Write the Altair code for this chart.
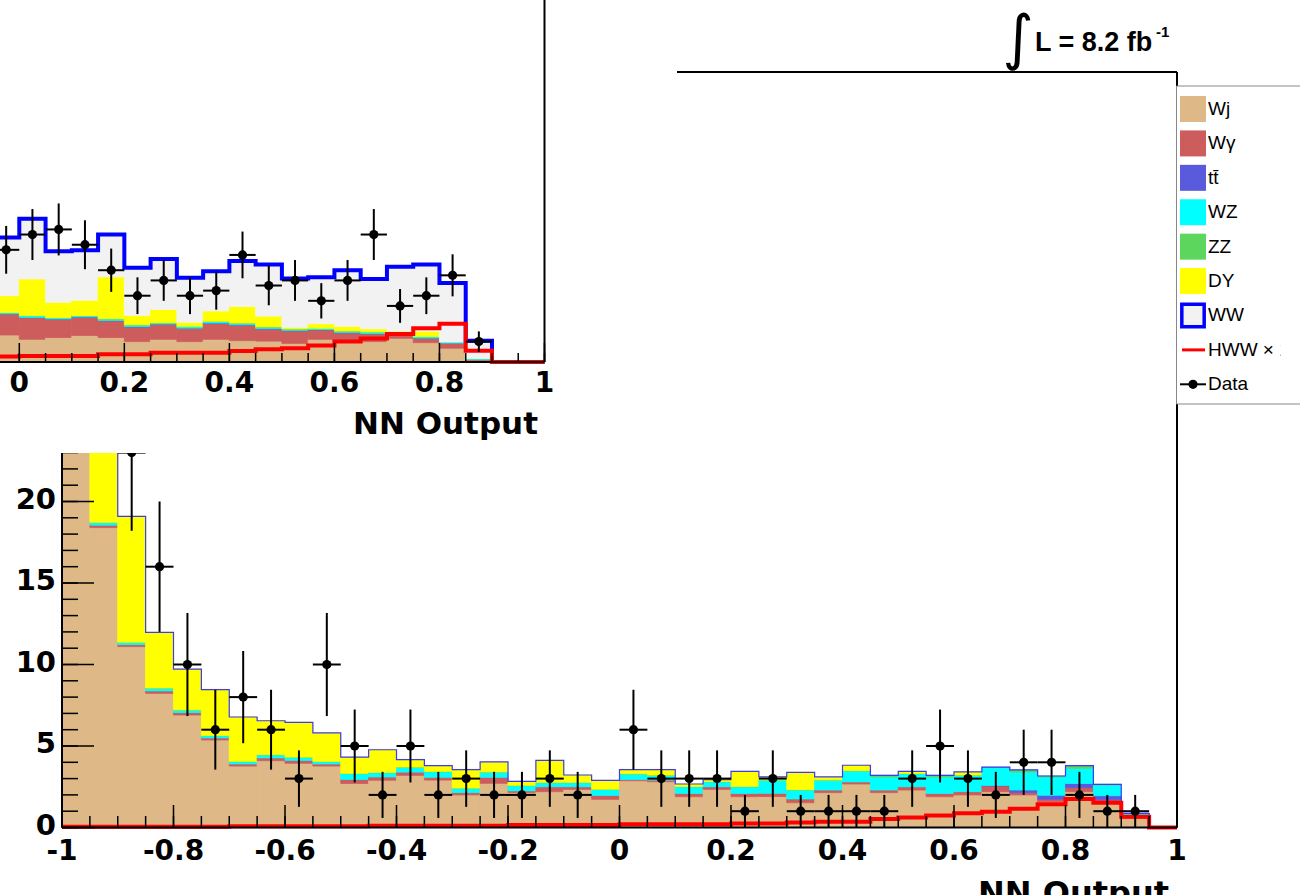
import altair as alt
import numpy as np
import pandas as pd

# ---------------- data ----------------
processes = ["Wj", "Wγ", "tt\u0304", "WZ", "ZZ", "DY", "WW"]
proc_colors = ["#DEB887", "#CD5C5C", "#5A5ADC", "#00FFFF", "#5CD65C", "#FFFF00", "#F2F2F2"]

# main panel: 40 bins of width 0.05 on [-1, 1]
main_edges = [round(-1 + 0.05 * i, 3) for i in range(41)]
main_wj = [32, 18.4, 11.1, 8.23, 6.9, 5.37, 3.77, 4.1, 3.94, 3.77, 2.7, 2.9, 3.2, 2.91, 2.0, 2.71, 2.14, 2.2, 2.34, 1.73,
           2.87, 2.81, 1.89, 2.34, 1.89, 1.9, 1.52, 2.14, 2.67, 2.14, 2.3, 1.89, 2.0, 2.2, 2.0, 1.58, 2.2, 1.58, 0.56, 0]
main_wg = [0.3, 0.15, 0.12, 0.15, 0.15, 0.13, 0.13, 0.17, 0.18, 0.13, 0.25, 0.2, 0.2, 0.17, 0.14, 0.37, 0.11, 0.3, 0.16, 0.24,
           0.08, 0.1, 0.2, 0.16, 0.2, 0.2, 0.23, 0.16, 0.13, 0.16, 0.2, 0.2, 0.2, 0.35, 0.14, 0.15, 0.25, 0.12, 0.04, 0]
main_tt = [0, 0, 0, 0, 0, 0, 0, 0, 0, 0, 0, 0, 0, 0, 0, 0, 0, 0, 0, 0,
           0, 0, 0, 0, 0, 0, 0, 0, 0, 0, 0, 0, 0, 0.03, 0.16, 0.25, 0.25, 0.25, 0.18, 0]
main_wz = [0.3, 0.15, 0.13, 0.16, 0.15, 0.13, 0.14, 0.18, 0.18, 0.14, 0.35, 0.26, 0.29, 0.34, 0.26, 0.31, 0.32, 0.25, 0.25, 0.36,
           0.33, 0.29, 0.41, 0.3, 0.41, 0.8, 0.55, 0.6, 0.67, 0.8, 0.8, 1.01, 1.0, 1.1, 1.1, 1.12, 0.93, 0.65, 0.07, 0]
main_zz = [0.05, 0.02, 0.02, 0.02, 0.02, 0.02, 0.02, 0.02, 0.02, 0.02, 0.02, 0.02, 0.02, 0.02, 0.02, 0.02, 0.02, 0.02, 0.02, 0.02,
           0.02, 0.02, 0.02, 0.02, 0.02, 0.02, 0.02, 0.02, 0.02, 0.1, 0.02, 0.1, 0.02, 0.02, 0.13, 0.06, 0.17, 0.05, 0.02, 0]
main_dy = [12, 12, 7.72, 3.41, 2.5, 2.81, 2.72, 2.08, 2.13, 1.74, 1.0, 1.39, 0.45, 0.35, 1.13, 0.61, 0.24, 1.35, 0.45, 0.54,
           0.25, 0.33, 0.15, 0.11, 0.92, 0.18, 1.06, 0.18, 0.33, 0, 0.12, 0, 0.19, 0, 0, 0, 0, 0, 0, 0]
main_ww = [0, 0, 0, 0, 0, 0, 0, 0, 0, 0, 0, 0, 0, 0, 0, 0, 0, 0, 0, 0,
           0, 0, 0, 0, 0, 0, 0, 0, 0, 0, 0, 0, 0, 0, 0, 0, 0, 0, 0, 0]
main_hww = [0.05, 0.05, 0.05, 0.05, 0.05, 0.05, 0.08, 0.08, 0.08, 0.08, 0.08, 0.1, 0.1, 0.1, 0.1, 0.1, 0.15, 0.15, 0.15, 0.15,
            0.2, 0.2, 0.2, 0.2, 0.25, 0.25, 0.3, 0.35, 0.35, 0.52, 0.62, 0.73, 0.87, 0.97, 1.15, 1.42, 1.75, 1.52, 0.66, 0]
main_data = [38, 30, 23, 16, 10, 6, 8, 6, 3, 10, 5, 2, 5, 2, 3, 2, 2, 3, 2, 0,
             6, 3, 3, 3, 1, 3, 1, 1, 1, 1, 3, 5, 3, 2, 4, 4, 2, 1, 1, 0]

# inset panel: 21 bins of width 0.05 on [-0.05, 1]
inset_edges = [round(-0.05 + 0.05 * i, 3) for i in range(22)]
inset_wj = [5.3, 4.45, 4.8, 5.2, 4.8, 4.0, 4.45, 4.0, 4.45, 4.2, 4.1, 3.65, 4.45, 4.3, 4.0, 4.65, 3.8, 2.7, 0.35, 0, 0]
inset_wg = [4.1, 4.25, 3.6, 3.6, 3.3, 2.9, 2.95, 2.6, 3.15, 3.05, 2.4, 2.5, 1.85, 1.45, 1.5, 0.65, 0.85, 0.95, 0.1, 0, 0]
inset_tt = [0.05, 0.05, 0.05, 0.05, 0.05, 0.05, 0.05, 0.05, 0.05, 0.05, 0.05, 0.05, 0.05, 0.05, 0.05, 0.05, 0.05, 0.05, 0.05, 0, 0]
inset_wz = [0.2, 0.3, 0.2, 0.2, 0.3, 0.3, 0.2, 0.3, 0.3, 0.3, 0.3, 0.25, 0.2, 0.25, 0.3, 0.2, 0.25, 0.15, 0.1, 0, 0]
inset_zz = [0.05, 0.05, 0.05, 0.05, 0.05, 0.05, 0.05, 0.05, 0.05, 0.05, 0.05, 0.05, 0.05, 0.05, 0.05, 0.05, 0.05, 0.05, 0.05, 0, 0]
inset_dy = [3.3, 7.2, 3.0, 3.0, 8.2, 1.8, 2.6, 0.8, 2.0, 3.25, 2.1, 0.3, 0.9, 0.9, 0.6, 0.45, 1.05, 0, 0, 0, 0]
inset_ww = [11.4, 11.8, 10.0, 9.8, 8.3, 9.4, 9.9, 8.7, 7.8, 8.9, 10.1, 9.6, 9.1, 11.0, 9.8, 12.65, 13.05, 11.6, 3.5, 0, 0]
inset_hww = [1.1, 1.2, 1.2, 1.2, 1.5, 1.5, 1.8, 1.8, 1.8, 2.15, 2.5, 2.7, 3.25, 4.0, 4.6, 5.5, 6.6, 7.5, 2.2, 0, 0]
inset_data = [22, 25, 26, 23, 18, 13, 16, 13, 14, 21, 15, 16, 12, 16, 25, 11, 13, 17, 4, 0, 0]

# axes
main_x_ticks = [-1, -0.8, -0.6, -0.4, -0.2, 0, 0.2, 0.4, 0.6, 0.8, 1]
main_x_labels = ["-1", "-0.8", "-0.6", "-0.4", "-0.2", "0", "0.2", "0.4", "0.6", "0.8", "1"]
main_x_minor = [round(-1 + 0.05 * i, 3) for i in range(41)]
main_y_ticks = [0, 5, 10, 15, 20, 25, 30, 35, 40, 45]
main_y_labels_v = [0, 5, 10, 15, 20]
main_y_minor = list(range(0, 47))
inset_x_ticks = [0, 0.2, 0.4, 0.6, 0.8, 1]
inset_x_labels = ["0", "0.2", "0.4", "0.6", "0.8", "1"]
inset_x_minor = [round(0.05 * i, 3) for i in range(21)]

legend_labels = ["Wj", "Wγ", "tt\u0304", "WZ", "ZZ", "DY", "WW", "HWW × 10", "Data"]

# ---------------- scales ----------------
MAIN_YMAX = 46.35
INSET_YMAX = 71.0


def sc(domain, rng):
    return alt.Scale(domain=domain, range=rng, nice=False, zero=False)


MX = sc([-1, 1], [62, 1177])
MY = sc([0, MAIN_YMAX], [827.5, 72])
IX = sc([0, 1], [19.3, 544.5])
IY = sc([0, INSET_YMAX], [362, 0])
LY = sc([0, 8], [109, 384.3])


def stack_df(edges, series):
    rows = []
    n = len(edges) - 1
    for i in range(n):
        base = 0.0
        for p, arr in zip(processes, series):
            v = arr[i]
            if v > 0:
                rows.append(dict(lo=edges[i], hi=edges[i + 1], proc=p, y0=base, y1=base + v))
            base += v
    return pd.DataFrame(rows)


def step_df(edges, vals):
    xs = list(edges[:-1]) + [edges[-1]]
    ys = list(vals) + [vals[-1]]
    return pd.DataFrame({"x": xs, "y": ys})


def data_df(edges, counts):
    rows = []
    for i, n in enumerate(counts):
        if n > 0:
            rows.append(dict(c=(edges[i] + edges[i + 1]) / 2, xl=edges[i], xh=edges[i + 1], n=n))
    return pd.DataFrame(rows)


main_series = [main_wj, main_wg, main_tt, main_wz, main_zz, main_dy, main_ww]
inset_series = [inset_wj, inset_wg, inset_tt, inset_wz, inset_zz, inset_dy, inset_ww]
main_total = [sum(s[i] for s in main_series) for i in range(40)]
inset_total = [sum(s[i] for s in inset_series) for i in range(21)]

one = pd.DataFrame({"a": [0]})
color_scale = alt.Scale(domain=processes, range=proc_colors)
BOLD = dict(font="DejaVu Sans", fontWeight="bold")


def panel(edges, series, total, hww, X, Y, outline_w, outline_color, clip):
    layers = []
    layers.append(alt.Chart(stack_df(edges, series)).mark_rect(strokeWidth=0.8, clip=clip).encode(
        x=alt.X("lo:Q", scale=X, axis=None), x2="hi:Q",
        y=alt.Y("y0:Q", scale=Y, axis=None), y2="y1:Q",
        color=alt.Color("proc:N", scale=color_scale, legend=None),
        stroke=alt.Stroke("proc:N", scale=color_scale, legend=None)))
    layers.append(alt.Chart(step_df(edges, total)).mark_line(
        interpolate="step-after", color=outline_color, strokeWidth=outline_w, clip=clip).encode(
        x=alt.X("x:Q", scale=X, axis=None), y=alt.Y("y:Q", scale=Y, axis=None)))
    layers.append(alt.Chart(step_df(edges, hww)).mark_line(
        interpolate="step-after", color="#FF0000", strokeWidth=4, clip=clip).encode(
        x=alt.X("x:Q", scale=X, axis=None), y=alt.Y("y:Q", scale=Y, axis=None)))
    return layers


def data_layers(edges, counts, X, Y, clip):
    d = data_df(edges, counts)
    base = alt.Chart(d).transform_calculate(
        elo="datum.n - sqrt(datum.n)", ehi="datum.n + sqrt(datum.n)")
    return [
        base.mark_rule(color="black", strokeWidth=2, clip=clip).encode(
            x=alt.X("c:Q", scale=X, axis=None), y=alt.Y("elo:Q", scale=Y, axis=None), y2="ehi:Q"),
        base.mark_rule(color="black", strokeWidth=2, clip=clip).encode(
            x=alt.X("xl:Q", scale=X, axis=None), x2="xh:Q", y=alt.Y("n:Q", scale=Y, axis=None)),
        base.mark_circle(color="black", size=85, opacity=1, clip=clip).encode(
            x=alt.X("c:Q", scale=X, axis=None), y=alt.Y("n:Q", scale=Y, axis=None)),
    ]


layers = []

# ---------- main panel ----------
layers += panel(main_edges, main_series, main_total, main_hww, MX, MY, 1.2, "#3a3aff", False)

# ticks
layers.append(alt.Chart(pd.DataFrame({"v": main_x_minor})).mark_rule(color="black", strokeWidth=1.5).encode(
    x=alt.X("v:Q", scale=MX, axis=None), y=alt.value(827.5), y2=alt.value(816)))
layers.append(alt.Chart(pd.DataFrame({"v": main_x_ticks})).mark_rule(color="black", strokeWidth=1.5).encode(
    x=alt.X("v:Q", scale=MX, axis=None), y=alt.value(827.5), y2=alt.value(805)))
layers.append(alt.Chart(pd.DataFrame({"v": main_y_minor})).mark_rule(color="black", strokeWidth=1.5).encode(
    y=alt.Y("v:Q", scale=MY, axis=None), x=alt.value(62), x2=alt.value(78)))
layers.append(alt.Chart(pd.DataFrame({"v": main_y_ticks})).mark_rule(color="black", strokeWidth=1.5).encode(
    y=alt.Y("v:Q", scale=MY, axis=None), x=alt.value(62), x2=alt.value(94)))

# frame
frame = pd.DataFrame({"x1": [-1, -1, 1, -1], "x2": [1, -1, 1, 1],
                      "y1": [0, 0, 0, MAIN_YMAX], "y2": [0, MAIN_YMAX, MAIN_YMAX, MAIN_YMAX]})
layers.append(alt.Chart(frame).mark_rule(color="black", strokeWidth=2).encode(
    x=alt.X("x1:Q", scale=MX, axis=None), x2="x2:Q", y=alt.Y("y1:Q", scale=MY, axis=None), y2="y2:Q"))

layers += data_layers(main_edges, main_data, MX, MY, False)

# labels
layers.append(alt.Chart(pd.DataFrame({"v": main_x_ticks, "t": main_x_labels})).mark_text(
    fontSize=28, align="center", baseline="middle", **BOLD).encode(
    x=alt.X("v:Q", scale=MX, axis=None), y=alt.value(852), text="t:N"))
layers.append(alt.Chart(pd.DataFrame({"v": main_y_labels_v, "t": [str(v) for v in main_y_labels_v]})).mark_text(
    fontSize=29, align="right", baseline="middle", dy=-2, **BOLD).encode(
    y=alt.Y("v:Q", scale=MY, axis=None), x=alt.value(56), text="t:N"))
layers.append(alt.Chart(one).mark_text(text="NN Output", fontSize=32, align="right", baseline="top", **BOLD).encode(
    x=alt.value(1169), y=alt.value(879)))

# ---------- inset canvas ----------
layers.append(alt.Chart(one).mark_rect(color="white", opacity=1).encode(
    x=alt.value(0), x2=alt.value(677), y=alt.value(0), y2=alt.value(453)))

layers += panel(inset_edges, inset_series, inset_total, inset_hww, IX, IY, 4, "#0000FF", True)

layers.append(alt.Chart(pd.DataFrame({"v": inset_x_minor})).mark_rule(color="black", strokeWidth=1.5).encode(
    x=alt.X("v:Q", scale=IX, axis=None), y=alt.value(362), y2=alt.value(353)))
layers.append(alt.Chart(pd.DataFrame({"v": inset_x_ticks})).mark_rule(color="black", strokeWidth=1.5).encode(
    x=alt.X("v:Q", scale=IX, axis=None), y=alt.value(362), y2=alt.value(343)))

iframe = pd.DataFrame({"x1": [-0.2, 1], "x2": [1, 1], "y1": [0, 0], "y2": [0, INSET_YMAX]})
layers.append(alt.Chart(iframe).mark_rule(color="black", strokeWidth=2, clip=True).encode(
    x=alt.X("x1:Q", scale=IX, axis=None), x2="x2:Q", y=alt.Y("y1:Q", scale=IY, axis=None), y2="y2:Q"))

layers += data_layers(inset_edges, inset_data, IX, IY, True)

layers.append(alt.Chart(pd.DataFrame({"v": inset_x_ticks, "t": inset_x_labels})).mark_text(
    fontSize=28, align="center", baseline="middle", **BOLD).encode(
    x=alt.X("v:Q", scale=IX, axis=None), y=alt.value(384), text="t:N"))
layers.append(alt.Chart(one).mark_text(text="NN Output", fontSize=31, align="right", baseline="alphabetic", **BOLD).encode(
    x=alt.value(538), y=alt.value(434)))

# ---------- luminosity ----------
layers.append(alt.Chart(one).mark_text(text="∫", font="DejaVu Sans", fontSize=60, align="center",
                                       baseline="alphabetic").encode(x=alt.value(1018), y=alt.value(58)))
layers.append(alt.Chart(one).mark_text(text="L = 8.2 fb", font="Liberation Sans", fontWeight="bold", fontSize=27,
                                       align="left", baseline="alphabetic").encode(x=alt.value(1035), y=alt.value(51)))
layers.append(alt.Chart(one).mark_text(text="-1", font="Liberation Sans", fontWeight="bold", fontSize=15,
                                       align="left", baseline="alphabetic").encode(x=alt.value(1156), y=alt.value(37)))

# ---------- legend ----------
layers.append(alt.Chart(one).mark_rect(fill="white", stroke="#888888", strokeWidth=1).encode(
    x=alt.value(1176.5), x2=alt.value(1320), y=alt.value(86), y2=alt.value(404)))
leg = pd.DataFrame({"r": list(range(len(legend_labels))), "t": legend_labels})
leg_fill = pd.DataFrame({"r": list(range(6)), "proc": processes[:6]})
layers.append(alt.Chart(leg_fill).mark_square(size=676, opacity=1).encode(
    x=alt.value(1193), y=alt.Y("r:Q", scale=LY, axis=None),
    color=alt.Color("proc:N", scale=color_scale, legend=None)))
layers.append(alt.Chart(pd.DataFrame({"r": [6]})).mark_square(
    size=500, fill="#F2F2F2", stroke="#0000FF", strokeWidth=3.5, opacity=1, filled=True).encode(
    x=alt.value(1193), y=alt.Y("r:Q", scale=LY, axis=None)))
layers.append(alt.Chart(pd.DataFrame({"r": [7]})).mark_rule(color="#FF0000", strokeWidth=3).encode(
    x=alt.value(1182), x2=alt.value(1205), y=alt.Y("r:Q", scale=LY, axis=None)))
layers.append(alt.Chart(pd.DataFrame({"r": [8]})).mark_rule(color="black", strokeWidth=2).encode(
    x=alt.value(1180), x2=alt.value(1206), y=alt.Y("r:Q", scale=LY, axis=None)))
layers.append(alt.Chart(pd.DataFrame({"r": [8]})).mark_circle(color="black", size=85, opacity=1).encode(
    x=alt.value(1193), y=alt.Y("r:Q", scale=LY, axis=None)))
layers.append(alt.Chart(leg).mark_text(font="Liberation Sans", fontSize=19, align="left", baseline="middle",
                                       color="black").encode(
    x=alt.value(1208), y=alt.Y("r:Q", scale=LY, axis=None), text="t:N"))
layers.append(alt.Chart(one).mark_rect(color="white", opacity=1).encode(
    x=alt.value(1281), x2=alt.value(1300), y=alt.value(335), y2=alt.value(366)))

chart = alt.layer(*layers).resolve_scale(
    x="independent", y="independent", color="independent", stroke="independent"
).properties(
    width=1300, height=895, padding=0, background="white",
    autosize=alt.AutoSizeParams(type="none")
).configure_view(stroke=None)

chart.save("out.html", embed_options={"renderer": "svg", "actions": False})
